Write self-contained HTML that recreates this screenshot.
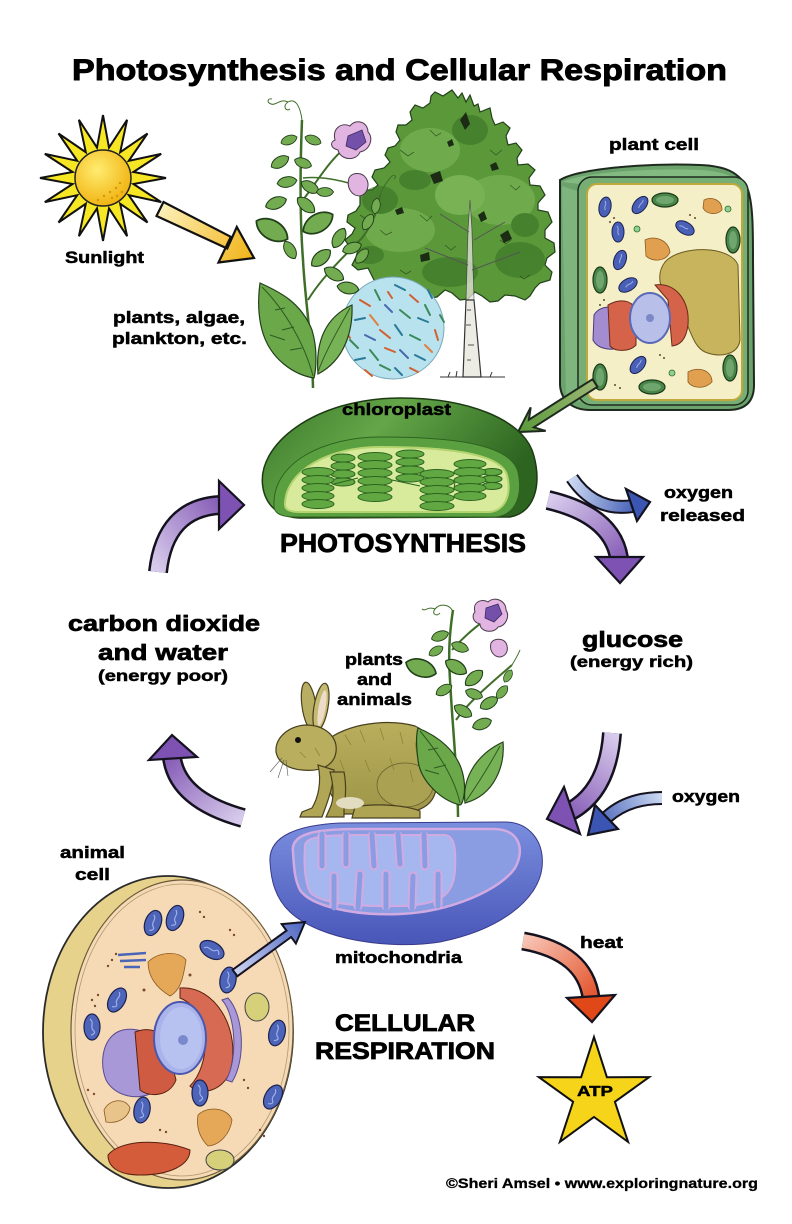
<!DOCTYPE html>
<html><head><meta charset="utf-8">
<style>
html,body{margin:0;padding:0;background:#fff;}
svg{display:block;}
text{font-family:"Liberation Sans",Arial,sans-serif;font-weight:bold;fill:#000;stroke:#000;stroke-width:0.5px;}
</style></head><body>
<svg width="792" height="1224" viewBox="0 0 792 1224" xmlns="http://www.w3.org/2000/svg">
<defs>
  <linearGradient id="gP1" gradientUnits="userSpaceOnUse" x1="158" y1="572" x2="242" y2="505"><stop offset="0" stop-color="#d8ccec"/><stop offset="1" stop-color="#7a4cae"/></linearGradient>
  <linearGradient id="gP2" gradientUnits="userSpaceOnUse" x1="548" y1="500" x2="620" y2="582"><stop offset="0" stop-color="#d8ccec"/><stop offset="1" stop-color="#7a4cae"/></linearGradient>
  <linearGradient id="gP4" gradientUnits="userSpaceOnUse" x1="612" y1="733" x2="548" y2="818"><stop offset="0" stop-color="#d8ccec"/><stop offset="1" stop-color="#7a4cae"/></linearGradient>
  <linearGradient id="gP6" gradientUnits="userSpaceOnUse" x1="243" y1="818" x2="172" y2="737"><stop offset="0" stop-color="#d8ccec"/><stop offset="1" stop-color="#7a4cae"/></linearGradient>
  <linearGradient id="gB3" gradientUnits="userSpaceOnUse" x1="572" y1="478" x2="648" y2="500"><stop offset="0" stop-color="#cbd8f2"/><stop offset="1" stop-color="#3350ae"/></linearGradient>
  <linearGradient id="gB5" gradientUnits="userSpaceOnUse" x1="662" y1="798" x2="589" y2="834"><stop offset="0" stop-color="#cbd8f2"/><stop offset="1" stop-color="#3350ae"/></linearGradient>
  <linearGradient id="gR" gradientUnits="userSpaceOnUse" x1="523" y1="941" x2="593" y2="1021"><stop offset="0" stop-color="#f8c4b4"/><stop offset="1" stop-color="#de3e12"/></linearGradient>
  <linearGradient id="gSA" gradientUnits="userSpaceOnUse" x1="160" y1="209" x2="253" y2="257"><stop offset="0" stop-color="#fcf0b8"/><stop offset="1" stop-color="#f2b418"/></linearGradient>
  <linearGradient id="gGA" gradientUnits="userSpaceOnUse" x1="595" y1="383" x2="518" y2="432"><stop offset="0" stop-color="#9cb874"/><stop offset="1" stop-color="#5a983a"/></linearGradient>
  <linearGradient id="gBS" gradientUnits="userSpaceOnUse" x1="235" y1="973" x2="305" y2="922"><stop offset="0" stop-color="#cdd4f2"/><stop offset="1" stop-color="#4d66c0"/></linearGradient>
  <radialGradient id="gSun" cx="0.4" cy="0.35" r="0.7"><stop offset="0" stop-color="#ffec70"/><stop offset="1" stop-color="#f0b00c"/></radialGradient>
  <linearGradient id="gChl" x1="0" y1="0" x2="1" y2="0.4"><stop offset="0" stop-color="#3a782a"/><stop offset="0.45" stop-color="#64a648"/><stop offset="1" stop-color="#2c6420"/></linearGradient>
  <linearGradient id="gMito" x1="0" y1="0" x2="0" y2="1"><stop offset="0" stop-color="#7a8ede"/><stop offset="1" stop-color="#4856b8"/></linearGradient>
  <linearGradient id="gRab" x1="0" y1="0" x2="0" y2="1"><stop offset="0" stop-color="#b8ae5c"/><stop offset="1" stop-color="#9f9548"/></linearGradient>
  <path id="leaf" d="M-10,0 C-6,-7 6,-7 10,0 C6,7 -6,7 -10,0 Z" fill="#72ab50" stroke="#22401a" stroke-width="1"/>
  <g id="amito"><ellipse rx="8" ry="13" fill="#4d64b8" stroke="#1b2250" stroke-width="1.2"/><path d="M-2,-8 C3,-4 -3,0 2,4 C4,6 0,8 -1,8" stroke="#9cb0ea" fill="none" stroke-width="1.2"/></g>
  <g id="pmito"><ellipse rx="6" ry="10" fill="#4a60b6" stroke="#1b2250" stroke-width="1"/><path d="M-1,-6 C2,-3 -2,0 1,3" stroke="#9cb0ea" fill="none" stroke-width="1"/></g>
  <g id="pchl"><ellipse rx="7" ry="13" fill="#4a854a" stroke="#1a3a1a" stroke-width="1.2"/><ellipse rx="4" ry="9" fill="#6fa66f"/></g>
</defs>

<!-- TITLE -->
<text x="72" y="80" font-size="30" textLength="655" lengthAdjust="spacingAndGlyphs" style="stroke-width:0.9px">Photosynthesis and Cellular Respiration</text>

<!-- TREE -->
<polygon points="452,90 458,98 462,93 466,102 470,95 474,106 478,104 480,112 490,108 492,118 495,125 503,122 510,128 506,136 508,145 516,143 522,150 517,158 518,165 528,164 535,170 529,178 530,185 540,186 545,195 538,203 538,210 548,212 552,222 545,230 545,238 554,243 555,252 547,258 545,265 552,272 550,280 540,283 535,288 530,296 525,300 515,296 505,295 498,301 490,302 482,296 475,292 468,299 460,300 452,293 445,290 437,297 430,298 422,290 415,285 407,292 400,292 394,284 390,278 382,283 375,282 371,274 368,268 358,270 352,265 356,257 358,250 349,246 345,240 352,234 355,228 347,222 348,215 356,211 360,205 360,196 365,190 372,190 378,185 372,177 375,170 384,168 390,162 385,155 388,148 395,146 400,140 396,132 398,125 406,125 412,120 410,112 415,105 423,108 430,103 431,96 435,92 443,96" fill="#5a983a" stroke="#22401a" stroke-width="1.2"/>
<g opacity="0.6">
<ellipse cx="430" cy="150" rx="30" ry="22" fill="#7db85a"/>
<ellipse cx="500" cy="200" rx="35" ry="25" fill="#7db85a"/>
<ellipse cx="400" cy="230" rx="35" ry="22" fill="#7db85a"/>
<ellipse cx="470" cy="130" rx="18" ry="15" fill="#3a7426"/>
<ellipse cx="520" cy="260" rx="25" ry="18" fill="#3a7426"/>
<ellipse cx="380" cy="200" rx="18" ry="14" fill="#3a7426"/>
<ellipse cx="450" cy="272" rx="28" ry="15" fill="#3a7426"/>
<ellipse cx="460" cy="195" rx="25" ry="20" fill="#8cc468"/>
<ellipse cx="525" cy="225" rx="14" ry="12" fill="#3a7426"/>
<ellipse cx="415" cy="180" rx="16" ry="10" fill="#3a7426"/>
<ellipse cx="370" cy="255" rx="14" ry="9" fill="#3a7426"/>
</g>
<g fill="none" stroke="#2a4a1a" stroke-width="0.8" opacity="0.8">
<path d="M400,150 l8,6 l6,-4 M430,130 l6,6 l5,-3 M490,150 l6,5 l6,-5 M510,185 l6,5 l4,-4 M380,230 l6,5 l6,-3 M420,215 l7,6 l5,-5 M500,240 l6,4 l5,-4 M445,245 l6,5 l5,-4 M360,215 l6,4 l4,-3 M530,275 l-6,4 l-4,-3 M400,270 l6,4 l5,-3"/>
</g>
<g fill="#1c2c14">
<path d="M460,120 l6,-8 l4,12 l-5,6z"/><path d="M430,175 l10,-4 l3,10 l-9,3z"/><path d="M500,235 l8,-5 l4,9 l-8,4z"/><path d="M420,255 l9,-3 l1,8 l-9,2z"/><path d="M490,165 l6,-3 l3,7 l-7,2z"/><path d="M395,210 l7,-3 l2,6 l-7,2z"/><path d="M478,215 l6,-4 l3,8 l-6,3z"/><path d="M447,142 l5,-3 l2,6 l-5,2z"/>
</g>
<path d="M466,300 L468,230 L470,200 L472,230 L474,300 Z" fill="#e6e6de" stroke="#444" stroke-width="0.8" opacity="0.75"/>
<path d="M463,377 L466,300 L474,300 L481,377 Z" fill="#ecece4" stroke="#333" stroke-width="1.2"/>
<g stroke="#555" stroke-width="1" fill="none">
<path d="M468,265 L425,248 M472,270 L520,252 M469,232 L440,214 M474,240 L505,222 M467,310 l4,0 M466,325 l5,0 M468,345 l6,0 M467,360 l4,0"/>
<path d="M440,377 L505,377 M448,377 l2,-5 M456,377 l1,-6 M490,377 l2,-5" stroke="#333"/>
</g>

<!-- PLANKTON -->
<circle cx="393" cy="328" r="51" fill="#b8e2ee" stroke="#7aaab8" stroke-width="1"/>
<g stroke-width="2" stroke-linecap="round">
<line x1="360" y1="300" x2="370" y2="306" stroke="#d06030"/><line x1="375" y1="290" x2="380" y2="300" stroke="#3a8a5a"/><line x1="395" y1="285" x2="405" y2="290" stroke="#2a7a9a"/><line x1="410" y1="295" x2="418" y2="302" stroke="#d06030"/><line x1="425" y1="305" x2="430" y2="315" stroke="#3a8a5a"/><line x1="355" y1="320" x2="365" y2="318" stroke="#2a7a9a"/><line x1="370" y1="315" x2="378" y2="325" stroke="#e08040"/><line x1="385" y1="305" x2="392" y2="312" stroke="#4a6ab0"/><line x1="400" y1="310" x2="410" y2="318" stroke="#3a8a5a"/><line x1="418" y1="318" x2="428" y2="322" stroke="#2a7a9a"/><line x1="435" y1="330" x2="438" y2="340" stroke="#d06030"/><line x1="350" y1="340" x2="358" y2="348" stroke="#3a8a5a"/><line x1="365" y1="335" x2="375" y2="340" stroke="#4a6ab0"/><line x1="380" y1="330" x2="390" y2="338" stroke="#d06030"/><line x1="395" y1="325" x2="402" y2="335" stroke="#2a7a9a"/><line x1="410" y1="335" x2="420" y2="340" stroke="#3a8a5a"/><line x1="425" y1="345" x2="432" y2="352" stroke="#e08040"/><line x1="355" y1="360" x2="365" y2="358" stroke="#2a7a9a"/><line x1="370" y1="350" x2="378" y2="360" stroke="#3a8a5a"/><line x1="385" y1="348" x2="395" y2="352" stroke="#d06030"/><line x1="400" y1="350" x2="408" y2="358" stroke="#4a6ab0"/><line x1="415" y1="355" x2="425" y2="360" stroke="#2a7a9a"/><line x1="365" y1="370" x2="372" y2="376" stroke="#d06030"/><line x1="380" y1="365" x2="390" y2="370" stroke="#3a8a5a"/><line x1="395" y1="368" x2="402" y2="375" stroke="#2a7a9a"/><line x1="410" y1="368" x2="418" y2="372" stroke="#d06030"/><line x1="345" y1="330" x2="350" y2="338" stroke="#d06030"/><line x1="440" y1="315" x2="444" y2="322" stroke="#3a8a5a"/><line x1="388" y1="292" x2="392" y2="298" stroke="#d06030"/><line x1="428" y1="290" x2="432" y2="298" stroke="#2a7a9a"/>
</g>

<!-- TOP PLANT -->
<g fill="none" stroke="#3f6e28" stroke-width="2.5">
<path d="M313,388 C312,340 305,300 303,260 C300,220 300,170 302,120"/>
<path d="M308,300 C320,280 340,260 362,238 C372,225 378,210 380,195" stroke-width="2"/>
<path d="M303,200 C318,180 330,160 345,148" stroke-width="2"/>
<path d="M303,178 C320,176 340,180 355,185" stroke-width="1.5"/>
</g>
<g fill="none" stroke="#3f6e28" stroke-width="1">
<path d="M302,120 C300,105 295,98 288,102 C282,106 286,112 290,109 M288,102 C280,98 276,106 271,104 C266,102 268,98 272,99"/>
<path d="M380,195 C384,185 388,180 392,176 C395,174 397,177 394,179"/>
</g>
<use href="#leaf" transform="translate(289,140) rotate(-20) scale(0.85)"/>
<use href="#leaf" transform="translate(313,140) rotate(20) scale(0.85)"/>
<use href="#leaf" transform="translate(280,162) rotate(-30) scale(1)"/>
<use href="#leaf" transform="translate(303,163) rotate(20) scale(0.9)"/>
<use href="#leaf" transform="translate(287,182) rotate(-10) scale(1)"/>
<use href="#leaf" transform="translate(310,187) rotate(30) scale(1)"/>
<use href="#leaf" transform="translate(325,192) rotate(0) scale(0.85)"/>
<use href="#leaf" transform="translate(276,203) rotate(-20) scale(1.1)"/>
<use href="#leaf" transform="translate(306,205) rotate(40) scale(1.1)"/>
<use href="#leaf" transform="translate(272,230) rotate(-150) scale(1.8)"/>
<use href="#leaf" transform="translate(318,223) rotate(-30) scale(1.7)"/>
<use href="#leaf" transform="translate(339,238) rotate(-60) scale(1.1)"/>
<use href="#leaf" transform="translate(321,258) rotate(-40) scale(1.2)"/>
<use href="#leaf" transform="translate(352,248) rotate(-20) scale(1)"/>
<use href="#leaf" transform="translate(334,274) rotate(30) scale(1.1)"/>
<use href="#leaf" transform="translate(362,256) rotate(-50) scale(0.9)"/>
<use href="#leaf" transform="translate(348,288) rotate(10) scale(1.1)"/>
<use href="#leaf" transform="translate(368,222) rotate(-60) scale(0.9)"/>
<use href="#leaf" transform="translate(376,206) rotate(-80) scale(0.8)"/>
<use href="#leaf" transform="translate(290,250) rotate(-120) scale(1)"/>
<path d="M260,283 C275,290 300,300 312,330 C318,350 316,370 314,378 C295,375 270,360 262,330 C258,315 258,298 260,283 Z" fill="#6aa84a" stroke="#22401a" stroke-width="1.2"/>
<path d="M262,287 C285,310 305,345 313,376 M275,310 l10,-2 M282,330 l12,-3 M270,335 l15,5 M290,350 l12,-2" fill="none" stroke="#2e5a20" stroke-width="1"/>
<path d="M352,305 C353,330 345,360 318,374 C316,350 320,320 352,305 Z" fill="#78b256" stroke="#22401a" stroke-width="1.2"/>
<path d="M350,308 C338,330 325,352 318,372" fill="none" stroke="#2e5a20" stroke-width="1"/>
<!-- flowers -->
<path d="M335,140 C332,128 342,122 350,126 C356,118 368,122 368,132 C374,138 370,150 360,152 C356,162 340,160 338,150 C330,148 330,142 335,140 Z" fill="#e2b4e2" stroke="#4a3a4a" stroke-width="1"/>
<path d="M348,136 L362,130 L366,142 L356,150 L346,146 Z" fill="#7350aa" stroke="#3a2a5a" stroke-width="0.8"/>
<path d="M349,178 C352,172 362,172 366,178 C370,184 368,194 360,196 C352,196 346,188 349,178 Z" fill="#e2b4e2" stroke="#4a3a4a" stroke-width="1"/>

<!-- SUN -->
<polygon points="166,178 133.4,184 161.2,202.1 128.8,195.2 147.5,222.5 120.2,203.8 127.1,236.2 109,208.4 103,241 97,208.4 78.9,236.2 85.8,203.8 58.5,222.5 77.2,195.2 44.8,202.1 72.6,184 40,178 72.6,172 44.8,153.9 77.2,160.8 58.5,133.5 85.8,152.2 78.9,119.8 97,147.6 103,115 109,147.6 127.1,119.8 120.2,152.2 147.5,133.5 128.8,160.8 161.2,153.9 133.4,172" fill="#f6e624" stroke="#111" stroke-width="2" stroke-linejoin="miter"/>
<circle cx="103" cy="178" r="28" fill="url(#gSun)" stroke="#222" stroke-width="1.5"/>
<g fill="#d89410"><circle cx="110" cy="192" r="1.2"/><circle cx="116" cy="188" r="1.2"/><circle cx="120" cy="183" r="1.2"/><circle cx="104" cy="196" r="1.2"/><circle cx="112" cy="198" r="1.2"/><circle cx="122" cy="192" r="1.2"/><circle cx="98" cy="200" r="1.2"/><circle cx="117" cy="196" r="1.2"/></g>
<!-- sun arrow -->
<polygon points="163.5,202 230.8,236.8 218.5,262.5 254,258 236.8,227 227.2,248.5 156.5,216" fill="url(#gSA)" stroke="#111" stroke-width="2.2" stroke-linejoin="miter"/>

<text x="65" y="263" font-size="16.5" textLength="79" lengthAdjust="spacingAndGlyphs">Sunlight</text>
<text x="113" y="323" font-size="16.5" textLength="132" lengthAdjust="spacingAndGlyphs">plants, algae,</text>
<text x="112" y="344" font-size="16.5" textLength="135" lengthAdjust="spacingAndGlyphs">plankton, etc.</text>

<!-- PLANT CELL -->
<text x="609" y="150" font-size="16.5" textLength="90" lengthAdjust="spacingAndGlyphs">plant cell</text>
<path d="M560,180 C580,168 650,163 700,165 C725,166 740,172 748,190 C753,205 753,230 753,260 L754,385 C754,402 745,410 728,410 L590,410 C572,410 561,400 560,385 Z" fill="#6ca36c" stroke="#1e2a1e" stroke-width="2"/>
<path d="M562,182 C585,172 650,168 700,170 C720,171 735,176 742,184 L580,184 Z" fill="#8abf88" opacity="0.8"/>
<path d="M562,186 L580,192 L580,402 L566,400 Z" fill="#86bb84" opacity="0.7"/>
<rect x="578" y="177" width="170" height="228" rx="14" fill="#76ae74" stroke="#1e2a1e" stroke-width="1.5"/>
<rect x="587" y="184" width="155" height="216" rx="10" fill="#f4efc6" stroke="#c0a83c" stroke-width="2"/>
<path d="M665,262 C680,245 730,245 738,265 L740,340 C738,355 720,358 705,352 C690,345 690,320 675,305 C660,295 655,275 665,262 Z" fill="#c8b45c" stroke="#6a5a20" stroke-width="1"/>
<path d="M594,315 C600,305 615,305 622,312 L624,345 C615,352 598,350 593,340 Z" fill="#a48cd0" stroke="#4a3a80" stroke-width="1"/>
<path d="M608,305 C620,298 632,300 636,310 L636,345 C630,352 615,352 610,346 Z" fill="#d4634a" stroke="#6a2a1a" stroke-width="1"/>
<path d="M655,285 C675,282 690,300 688,325 C686,340 680,345 672,346 L668,300 Z" fill="#d4634a" stroke="#6a2a1a" stroke-width="1"/>
<ellipse cx="650" cy="318" rx="20" ry="25" fill="#b8c0ea" stroke="#5a68b8" stroke-width="2"/>
<circle cx="650" cy="318" r="4" fill="#7c88c8"/>
<use href="#pmito" transform="translate(605,207) rotate(10)"/>
<use href="#pmito" transform="translate(640,205) rotate(40)"/>
<use href="#pmito" transform="translate(618,232) rotate(0)"/>
<use href="#pmito" transform="translate(620,260) rotate(20)"/>
<use href="#pmito" transform="translate(628,285) rotate(60)"/>
<use href="#pmito" transform="translate(685,228) rotate(-60)"/>
<use href="#pmito" transform="translate(638,365) rotate(40)"/>
<use href="#pchl" transform="translate(665,200) rotate(90)"/>
<use href="#pchl" transform="translate(600,280)"/>
<use href="#pchl" transform="translate(733,240)"/>
<use href="#pchl" transform="translate(600,377)"/>
<use href="#pchl" transform="translate(652,387) rotate(90)"/>
<use href="#pchl" transform="translate(730,368)"/>
<g fill="#e0a050" stroke="#8a5a20" stroke-width="0.8">
<path d="M645,240 C655,235 668,240 670,252 C666,262 652,262 646,256 Z"/>
<path d="M704,200 C712,196 722,200 722,210 C716,216 706,214 703,208 Z"/>
<path d="M688,372 C698,366 712,370 712,382 C704,390 692,388 688,382 Z"/>
</g>
<g fill="#90d090" stroke="#2a6a2a" stroke-width="0.8"><circle cx="637" cy="229" r="3"/><circle cx="728" cy="209" r="3"/><circle cx="672" cy="373" r="3"/></g>
<g fill="#5a4a2a"><circle cx="610" cy="222" r="1"/><circle cx="614" cy="218" r="1"/><circle cx="600" cy="305" r="1"/><circle cx="604" cy="300" r="1"/><circle cx="690" cy="215" r="1"/><circle cx="695" cy="218" r="1"/><circle cx="660" cy="355" r="1"/><circle cx="664" cy="358" r="1"/><circle cx="615" cy="385" r="1"/><circle cx="620" cy="388" r="1"/></g>
<!-- green arrow -->
<polygon points="597.4,386.8 533.8,427.3 545.7,430.9 518,432 530.7,407.3 528.9,419.7 592.6,379.2" fill="url(#gGA)" stroke="#1e2a1e" stroke-width="2" stroke-linejoin="miter"/>

<!-- CHLOROPLAST -->
<path d="M263,488 C255,445 315,398 400,398 C470,398 520,420 532,450 C542,478 538,512 510,517 L300,518 C278,517 266,505 263,488 Z" fill="url(#gChl)" stroke="#1e3a14" stroke-width="1.5"/>
<path d="M274,506 C272,462 325,437 380,437 C445,437 510,442 518,472 C524,500 512,516 495,517 L295,517 C282,517 274,514 274,506 Z" fill="#5aa040" stroke="#2e6420" stroke-width="1"/>
<path d="M285,505 C285,470 330,447 380,447 C440,447 500,452 507,475 C512,495 505,510 490,512 L300,512 C290,512 285,510 285,505 Z" fill="#d8ea9c" stroke="#b4d470" stroke-width="2"/>
<text x="342" y="415" font-size="16.5" textLength="109" lengthAdjust="spacingAndGlyphs">chloroplast</text>
<g fill="#62a842" stroke="#2a6420" stroke-width="1">
<ellipse cx="343" cy="458" rx="12" ry="4"/><ellipse cx="343" cy="466" rx="12" ry="4"/><ellipse cx="343" cy="474" rx="12" ry="4"/><ellipse cx="343" cy="482" rx="12" ry="4"/>
<ellipse cx="410" cy="454" rx="14" ry="4"/><ellipse cx="410" cy="462" rx="14" ry="4"/><ellipse cx="410" cy="470" rx="14" ry="4"/><ellipse cx="410" cy="478" rx="14" ry="4"/>
<ellipse cx="492" cy="472" rx="10" ry="3.5"/><ellipse cx="492" cy="479" rx="10" ry="3.5"/><ellipse cx="492" cy="486" rx="10" ry="3.5"/>
<ellipse cx="318" cy="472" rx="16" ry="4.5"/><ellipse cx="318" cy="480" rx="16" ry="4.5"/><ellipse cx="318" cy="488" rx="16" ry="4.5"/><ellipse cx="318" cy="496" rx="16" ry="4.5"/><ellipse cx="318" cy="504" rx="16" ry="4.5"/>
<ellipse cx="375" cy="457" rx="17" ry="4.5"/><ellipse cx="375" cy="465" rx="17" ry="4.5"/><ellipse cx="375" cy="473" rx="17" ry="4.5"/><ellipse cx="375" cy="481" rx="17" ry="4.5"/><ellipse cx="375" cy="489" rx="17" ry="4.5"/><ellipse cx="375" cy="497" rx="17" ry="4.5"/>
<ellipse cx="437" cy="474" rx="17" ry="4.5"/><ellipse cx="437" cy="482" rx="17" ry="4.5"/><ellipse cx="437" cy="490" rx="17" ry="4.5"/><ellipse cx="437" cy="498" rx="17" ry="4.5"/><ellipse cx="437" cy="506" rx="17" ry="4.5"/>
<ellipse cx="470" cy="464" rx="16" ry="4.5"/><ellipse cx="470" cy="472" rx="16" ry="4.5"/><ellipse cx="470" cy="480" rx="16" ry="4.5"/><ellipse cx="470" cy="488" rx="16" ry="4.5"/><ellipse cx="470" cy="496" rx="16" ry="4.5"/>
</g>
<g stroke="#2a6420" stroke-width="1"><line x1="334" y1="484" x2="358" y2="478"/><line x1="392" y1="480" x2="420" y2="486"/><line x1="454" y1="488" x2="455" y2="482"/></g>

<!-- ARROWS (cycle) -->
<g fill="none" stroke-linecap="butt">
<path d="M158,572 Q165,508 220,505" stroke="#15121f" stroke-width="20"/>
<path d="M158,572 Q165,508 220,505" stroke="url(#gP1)" stroke-width="15"/>
<path d="M548,500 Q612,515 619,558" stroke="#15121f" stroke-width="20"/>
<path d="M548,500 Q612,515 619,558" stroke="url(#gP2)" stroke-width="15"/>
<path d="M572,478 Q595,512 633,506" stroke="#15121f" stroke-width="14"/>
<path d="M572,478 Q595,512 633,506" stroke="url(#gB3)" stroke-width="10"/>
<path d="M612,733 Q608,790 571,811" stroke="#15121f" stroke-width="20"/>
<path d="M612,733 Q608,790 571,811" stroke="url(#gP4)" stroke-width="15"/>
<path d="M662,798 Q628,798 607,817" stroke="#15121f" stroke-width="14"/>
<path d="M662,798 Q628,798 607,817" stroke="url(#gB5)" stroke-width="10"/>
<path d="M243,818 Q178,800 172,758" stroke="#15121f" stroke-width="20"/>
<path d="M243,818 Q178,800 172,758" stroke="url(#gP6)" stroke-width="15"/>
<path d="M523,941 Q585,952 591,998" stroke="#15121f" stroke-width="19"/>
<path d="M523,941 Q585,952 591,998" stroke="url(#gR)" stroke-width="14"/>
</g>
<g stroke="#15121f" stroke-width="2.2" stroke-linejoin="miter">
<polygon points="219,481 244,505 219,529" fill="#7e52b2"/>
<polygon points="596,557 643,557 620,583" fill="#7e52b2"/>
<polygon points="626,489 650,502 637,521" fill="#3a56b2"/>
<polygon points="564,787 547,819 580,834" fill="#7e52b2"/>
<polygon points="595,805 588,835 618,829" fill="#3a56b2"/>
<polygon points="149,760 172,735 197,757" fill="#7e52b2"/>
<polygon points="567,998 592,1022 615,995" fill="#e04818"/>
</g>

<!-- TEXT: cycle -->
<text x="664" y="498" font-size="16.5" textLength="69" lengthAdjust="spacingAndGlyphs">oxygen</text>
<text x="660" y="521" font-size="16.5" textLength="85" lengthAdjust="spacingAndGlyphs">released</text>
<text x="280" y="552" font-size="26" textLength="246" lengthAdjust="spacingAndGlyphs" style="stroke-width:0.8px">PHOTOSYNTHESIS</text>
<text x="68" y="631" font-size="22" textLength="192" lengthAdjust="spacingAndGlyphs" style="stroke-width:0.7px">carbon dioxide</text>
<text x="98" y="660" font-size="22" textLength="130" lengthAdjust="spacingAndGlyphs" style="stroke-width:0.7px">and water</text>
<text x="98" y="681" font-size="16" textLength="130" lengthAdjust="spacingAndGlyphs">(energy poor)</text>
<text x="582" y="647" font-size="22" textLength="101" lengthAdjust="spacingAndGlyphs" style="stroke-width:0.7px">glucose</text>
<text x="570" y="667" font-size="16" textLength="123" lengthAdjust="spacingAndGlyphs">(energy rich)</text>
<text x="345" y="665" font-size="16.5" textLength="58" lengthAdjust="spacingAndGlyphs">plants</text>
<text x="357" y="685" font-size="16.5" textLength="35" lengthAdjust="spacingAndGlyphs">and</text>
<text x="337" y="705" font-size="16.5" textLength="75" lengthAdjust="spacingAndGlyphs">animals</text>
<text x="672" y="802" font-size="16.5" textLength="68" lengthAdjust="spacingAndGlyphs">oxygen</text>

<!-- RABBIT -->
<g stroke="#4a4020" stroke-width="1.2">
<ellipse cx="309" cy="706" rx="7" ry="24" transform="rotate(-8 309 706)" fill="#b8ae62"/>
<ellipse cx="321" cy="707" rx="7" ry="24" transform="rotate(10 321 707)" fill="#c4ba72"/>
<ellipse cx="322" cy="708" rx="3.5" ry="18" transform="rotate(10 322 708)" fill="#ecdcc8" stroke="none"/>
<path d="M318,752 C328,728 380,716 415,726 C438,736 444,772 434,796 C428,810 410,814 390,814 L345,814 C336,805 330,792 322,778 Z" fill="url(#gRab)"/>
<ellipse cx="405" cy="785" rx="28" ry="22" fill="#aba152" stroke="#6a6030" stroke-width="0.8"/>
<path d="M276,752 C275,738 288,726 306,725 C324,725 338,736 336,752 C334,766 320,772 302,770 C289,769 278,763 276,752 Z" fill="#b8ae5e"/>
<path d="M318,765 C322,782 318,798 312,808 L302,812 L300,817 L322,817 L326,806 C331,792 334,780 334,770 Z" fill="#b0a656"/>
<path d="M330,772 C334,786 334,800 330,808 L326,817 L344,817 L344,808 C346,795 346,782 344,772 Z" fill="#a89e4e"/>
<path d="M355,807 C375,803 405,805 420,811 L420,818 L352,818 Z" fill="#aea454"/>
</g>
<ellipse cx="350" cy="803" rx="14" ry="6" fill="#e2dcc0"/>
<circle cx="298" cy="740" r="3" fill="#111"/>
<g stroke="#857a2c" stroke-width="0.8" fill="none" opacity="0.8">
<path d="M345,735 l6,10 M360,730 l5,12 M380,728 l4,12 M400,732 l3,12 M415,742 l2,12 M365,760 l5,12 M390,758 l4,12 M410,770 l3,12 M340,760 l4,10 M300,752 l6,6 M315,748 l5,8 M425,760 l2,10"/>
</g>
<g stroke="#555" stroke-width="0.6"><line x1="282" y1="758" x2="270" y2="772"/><line x1="284" y1="760" x2="278" y2="778"/><line x1="286" y1="760" x2="288" y2="776"/></g>

<!-- LOWER PLANT -->
<g fill="none" stroke="#3f6e28" stroke-width="2.5">
<path d="M458,817 C458,780 452,720 450,680 C448,650 450,630 453,610"/>
<path d="M456,720 C470,700 495,680 512,665" stroke-width="2"/>
<path d="M452,650 C465,635 478,625 488,618" stroke-width="2"/>
</g>
<path d="M453,612 C450,604 440,603 435,609 C431,614 437,617 440,613 M435,609 C428,606 425,612 422,609" fill="none" stroke="#3f6e28" stroke-width="1"/>
<path d="M512,665 C515,660 518,655 520,650" fill="none" stroke="#3f6e28" stroke-width="1"/>
<use href="#leaf" transform="translate(421,668) rotate(-160) scale(1.6)"/>
<use href="#leaf" transform="translate(440,636) rotate(-20) scale(0.9)"/>
<use href="#leaf" transform="translate(460,647) rotate(20) scale(0.9)"/>
<use href="#leaf" transform="translate(436,651) rotate(-30) scale(0.8)"/>
<use href="#leaf" transform="translate(456,667) rotate(30) scale(1.2)"/>
<use href="#leaf" transform="translate(474,678) rotate(-40) scale(1.1)"/>
<use href="#leaf" transform="translate(474,694) rotate(20) scale(0.9)"/>
<use href="#leaf" transform="translate(489,703) rotate(-30) scale(1)"/>
<use href="#leaf" transform="translate(502,692) rotate(-50) scale(0.8)"/>
<use href="#leaf" transform="translate(463,711) rotate(30) scale(1)"/>
<use href="#leaf" transform="translate(482,724) rotate(-20) scale(1)"/>
<use href="#leaf" transform="translate(508,676) rotate(-60) scale(0.7)"/>
<use href="#leaf" transform="translate(444,690) rotate(-30) scale(0.9)"/>
<path d="M418,728 C435,735 460,750 464,780 C466,795 462,805 460,805 C440,800 420,780 418,760 C416,745 416,735 418,728 Z" fill="#6aa84a" stroke="#22401a" stroke-width="1.2"/>
<path d="M420,731 C440,755 455,780 460,803 M428,750 l10,-2 M434,768 l12,-3 M425,770 l14,4" fill="none" stroke="#2e5a20" stroke-width="1"/>
<path d="M503,742 C505,765 495,795 465,803 C462,780 475,755 503,742 Z" fill="#78b256" stroke="#22401a" stroke-width="1.2"/>
<path d="M500,746 C488,768 475,788 466,801" fill="none" stroke="#2e5a20" stroke-width="1"/>
<path d="M475,612 C472,602 482,598 488,602 C494,596 506,600 506,610 C510,616 506,626 498,627 C494,634 480,632 480,624 C472,622 472,615 475,612 Z" fill="#e2b4e2" stroke="#4a3a4a" stroke-width="1"/>
<path d="M486,608 L498,604 L502,614 L494,622 L485,618 Z" fill="#7350aa" stroke="#3a2a5a" stroke-width="0.8"/>
<path d="M491,643 C494,638 503,638 506,643 C509,649 507,656 500,657 C494,657 489,651 491,643 Z" fill="#e2b4e2" stroke="#4a3a4a" stroke-width="1"/>

<!-- MITOCHONDRIA -->
<path d="M270,862 C268,835 300,825 340,823 L505,822 C528,822 545,840 542,868 C538,900 500,930 440,942 C390,950 320,940 290,912 C275,898 271,880 270,862 Z" fill="url(#gMito)" stroke="#3a3a8a" stroke-width="1"/>
<path d="M293,852 C290,832 320,829 360,829 L495,829 C520,830 525,850 515,868 C500,890 450,912 400,914 C350,916 310,905 300,890 C294,878 294,865 293,852 Z" fill="#8a9de2" stroke="#d2aae2" stroke-width="2.5"/>
<path d="M305,845 C306,836 330,835 360,835 L445,835 C455,836 456,850 455,870 C454,895 440,905 400,906 C350,907 318,902 310,892 C304,880 304,860 305,845 Z" fill="#a6b6ee" stroke="#d2aae2" stroke-width="2"/>
<g fill="none" stroke-linecap="round">
<path d="M322,836 L322,866 M346,836 L346,864 M372,836 L374,866 M398,836 L400,864 M424,836 L425,866 M334,905 L334,876 M358,906 L360,874 M386,906 L386,874 M412,906 L413,876 M438,904 L438,874" stroke="#d2aae2" stroke-width="9"/>
<path d="M322,834 L322,866 M346,834 L346,864 M372,834 L374,866 M398,834 L400,864 M424,834 L425,866 M334,908 L334,876 M358,908 L360,874 M386,908 L386,874 M412,908 L413,876 M438,906 L438,874" stroke="#8a9de2" stroke-width="5"/>
</g>
<text x="335" y="963" font-size="16.5" textLength="127" lengthAdjust="spacingAndGlyphs">mitochondria</text>

<!-- ANIMAL CELL -->
<text x="60" y="858" font-size="16.5" textLength="65" lengthAdjust="spacingAndGlyphs">animal</text>
<text x="75" y="880" font-size="16.5" textLength="35" lengthAdjust="spacingAndGlyphs">cell</text>
<ellipse cx="168" cy="1032" rx="125" ry="156" fill="#e6d28a" stroke="#2a2a2a" stroke-width="1.8"/>
<ellipse cx="182" cy="1030" rx="111" ry="150" fill="#f6dab6" stroke="#6a5a3a" stroke-width="1.2"/>
<ellipse cx="182" cy="1030" rx="107" ry="146" fill="none" stroke="#b09a70" stroke-width="0.8"/>
<path d="M108,1155 C120,1140 160,1138 190,1150 C190,1165 170,1175 140,1175 C120,1175 108,1168 108,1155 Z" fill="#d45c3a" stroke="#5a2010" stroke-width="1"/>
<path d="M112,1036 C122,1026 142,1028 150,1036 L150,1094 C135,1100 115,1096 106,1080 C100,1065 102,1046 112,1036 Z" fill="#a898d8" stroke="#5a4a90" stroke-width="1"/>
<path d="M135,1032 C150,1026 162,1032 166,1042 L176,1080 C170,1096 150,1098 140,1090 Z" fill="#cf5c42" stroke="#5a2010" stroke-width="1"/>
<path d="M180,988 C215,985 242,1030 230,1072 C222,1092 200,1096 190,1086 C210,1066 214,1012 180,998 Z" fill="#d66a52" stroke="#5a2010" stroke-width="1"/>
<path d="M222,1000 C236,1015 238,1060 226,1080 L232,1082 C246,1060 244,1015 228,998 Z" fill="#a898d8" stroke="#5a4a90" stroke-width="1"/>
<ellipse cx="180" cy="1038" rx="26" ry="36" fill="#aab4ea" stroke="#4a58b0" stroke-width="2"/>
<ellipse cx="181" cy="1038" rx="21" ry="31" fill="#b8c2f0"/>
<circle cx="183" cy="1040" r="5" fill="#7a88cc"/>
<use href="#amito" transform="translate(153,923) rotate(20)"/>
<use href="#amito" transform="translate(175,918) rotate(20)"/>
<use href="#amito" transform="translate(212,950) rotate(-60)"/>
<use href="#amito" transform="translate(117,1000) rotate(30)"/>
<use href="#amito" transform="translate(92,1027) rotate(0)"/>
<use href="#amito" transform="translate(228,980) rotate(10)"/>
<use href="#amito" transform="translate(277,1033) rotate(15)"/>
<use href="#amito" transform="translate(200,1093) rotate(0)"/>
<use href="#amito" transform="translate(142,1110) rotate(10)"/>
<use href="#amito" transform="translate(273,1097) rotate(30)"/>
<g stroke="#444" stroke-width="1"><ellipse cx="257" cy="1007" rx="12" ry="14" fill="#d6d07a"/><ellipse cx="220" cy="1160" rx="14" ry="10" fill="#d6d07a"/></g>
<g fill="#e4a858" stroke="#8a5a20" stroke-width="0.8">
<path d="M148,962 C158,952 178,950 186,960 C184,972 182,990 170,996 C160,990 148,980 148,962 Z"/>
<path d="M198,1115 C208,1105 228,1108 232,1120 C230,1134 220,1145 208,1146 C200,1138 196,1128 198,1115 Z"/>
<path d="M104,1110 C110,1098 126,1098 130,1108 C128,1118 118,1124 106,1122 Z" fill="#e8c48a"/>
</g>
<g stroke="#4a64b8" stroke-width="2.5"><line x1="118" y1="955" x2="146" y2="953"/><line x1="120" y1="961" x2="146" y2="960"/><line x1="124" y1="967" x2="140" y2="967"/></g>
<g fill="#7a4a2a">
<circle cx="112" cy="960" r="1.2"/><circle cx="116" cy="954" r="1.2"/><circle cx="108" cy="966" r="1.2"/><circle cx="200" cy="912" r="1.2"/><circle cx="204" cy="917" r="1.2"/><circle cx="230" cy="930" r="1.2"/><circle cx="234" cy="935" r="1.2"/><circle cx="92" cy="1000" r="1.2"/><circle cx="95" cy="1006" r="1.2"/><circle cx="98" cy="995" r="1.2"/><circle cx="88" cy="1090" r="1.2"/><circle cx="94" cy="1094" r="1.2"/><circle cx="244" cy="1080" r="1.2"/><circle cx="248" cy="1088" r="1.2"/><circle cx="160" cy="1130" r="1.2"/><circle cx="166" cy="1132" r="1.2"/><circle cx="260" cy="1130" r="1.2"/><circle cx="264" cy="1136" r="1.2"/><circle cx="190" cy="975" r="1.5"/><circle cx="144" cy="990" r="1.5"/>
</g>
<!-- blue straight arrow -->
<polygon points="237.4,976.2 291.2,937 295.9,943.5 305,922 281.7,924.1 286.5,930.6 232.6,969.8" fill="url(#gBS)" stroke="#15121f" stroke-width="2" stroke-linejoin="miter"/>

<!-- CELLULAR RESPIRATION -->
<text x="335" y="1031" font-size="24" textLength="140" lengthAdjust="spacingAndGlyphs" style="stroke-width:0.8px">CELLULAR</text>
<text x="315" y="1059" font-size="24" textLength="180" lengthAdjust="spacingAndGlyphs" style="stroke-width:0.8px">RESPIRATION</text>
<text x="580" y="948" font-size="16.5" textLength="43" lengthAdjust="spacingAndGlyphs">heat</text>

<!-- ATP STAR -->
<polygon points="594,1037 606.9,1077.2 649.2,1077.1 614.9,1101.8 628.1,1141.9 594,1117 559.9,1141.9 573.1,1101.8 538.8,1077.1 581.1,1077.2" fill="#f5d41a" stroke="#111" stroke-width="2" stroke-linejoin="miter"/>
<text x="577" y="1096" font-size="15" textLength="36" lengthAdjust="spacingAndGlyphs">ATP</text>

<!-- FOOTER -->
<text x="446" y="1188" font-size="14" textLength="312" lengthAdjust="spacingAndGlyphs" style="stroke-width:0.3px">©Sheri Amsel • www.exploringnature.org</text>
</svg>
</body></html>
